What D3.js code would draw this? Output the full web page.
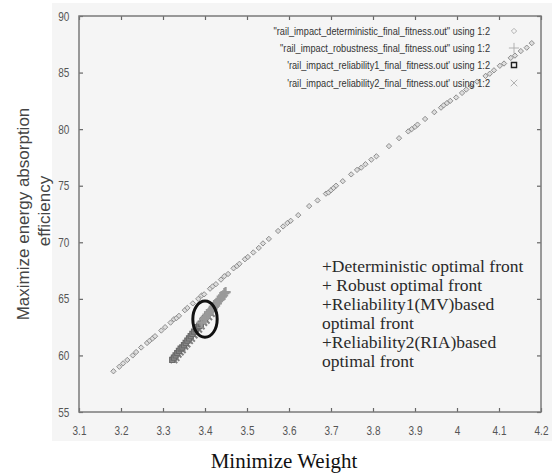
<!DOCTYPE html>
<html>
<head>
<meta charset="utf-8">
<script src="https://cdn.jsdelivr.net/npm/d3@7"></script>
<style>
  body { margin: 0; background: #fff; }
  svg { display: block; }
</style>
</head>
<body>
<div id="chart"></div>
<script>
// chart size = window size
var svgWidth = 552;
var svgHeight = 473;

// plot box inside the svg
var box = { left: 79, right: 541, top: 16, bottom: 412 };

// ticks
var xTicks = [3.1, 3.2, 3.3, 3.4, 3.5, 3.6, 3.7, 3.8, 3.9, 4, 4.1, 4.2];
var yTicks = [55, 60, 65, 70, 75, 80, 85, 90];

// deterministic front (weight, efficiency)
var detX = [3.182, 3.196, 3.205, 3.215, 3.228, 3.236, 3.248, 3.262, 3.268, 3.275, 3.281, 3.296, 3.305, 3.318, 3.326, 3.332, 3.338, 3.352, 3.358, 3.371, 3.384,
  3.392, 3.398, 3.412, 3.418, 3.426, 3.438, 3.446, 3.455, 3.468, 3.476, 3.482, 3.495, 3.502, 3.515, 3.528, 3.538, 3.552, 3.574, 3.586, 3.596,
  3.604, 3.622, 3.648, 3.668, 3.688, 3.694, 3.700, 3.706, 3.712, 3.728, 3.748, 3.762, 3.772, 3.782, 3.796, 3.808, 3.838, 3.862, 3.884, 3.892, 3.900, 3.906,
  3.924, 3.946, 3.962, 3.968, 3.976, 3.984, 3.998, 4.012, 4.022, 4.034, 4.048, 4.068, 4.078, 4.088, 4.102, 4.112, 4.128, 4.138, 4.152, 4.166, 4.178];
var detY = [58.6, 59.0, 59.3, 59.6, 60.0, 60.3, 60.7, 61.1, 61.3, 61.5, 61.7, 62.2, 62.5, 62.9, 63.2, 63.3, 63.5, 64.0, 64.2, 64.6, 65.0,
  65.3, 65.4, 65.9, 66.1, 66.3, 66.7, 67.0, 67.2, 67.7, 67.9, 68.1, 68.5, 68.7, 69.1, 69.5, 69.9, 70.3, 71.0, 71.4, 71.7,
  71.9, 72.4, 73.2, 73.7, 74.3, 74.4, 74.6, 74.8, 75.0, 75.4, 76.0, 76.4, 76.6, 76.9, 77.3, 77.6, 78.5, 79.2, 79.8, 80.0, 80.2, 80.4,
  80.9, 81.5, 81.9, 82.1, 82.3, 82.5, 82.8, 83.2, 83.5, 83.8, 84.2, 84.7, 84.9, 85.2, 85.6, 85.8, 86.3, 86.5, 86.9, 87.2, 87.6];

// robust front
var robX = [3.392, 3.398, 3.402, 3.406, 3.410, 3.414, 3.418, 3.421, 3.424, 3.428, 3.431, 3.434, 3.437, 3.440, 3.443, 3.446, 3.449];
var robY = [62.9, 63.2, 63.4, 63.6, 63.8, 64.0, 64.1, 64.3, 64.4, 64.6, 64.8, 64.9, 65.0, 65.2, 65.3, 65.5, 65.6];

// reliability1 (MV) front
var rel1X = [3.322, 3.326, 3.330, 3.334, 3.338, 3.342, 3.346, 3.350, 3.354, 3.358, 3.362, 3.366, 3.370, 3.374, 3.378, 3.382, 3.386, 3.390, 3.395, 3.400, 3.405, 3.410];
var rel1Y = [59.6, 59.8, 60.0, 60.2, 60.4, 60.6, 60.7, 60.9, 61.1, 61.3, 61.5, 61.7, 61.9, 62.1, 62.3, 62.5, 62.6, 62.8, 63.1, 63.3, 63.6, 63.8];

// reliability2 (RIA) front
var rel2X = [3.326, 3.331, 3.336, 3.341, 3.346, 3.352, 3.357, 3.363, 3.368, 3.374, 3.379, 3.385, 3.391, 3.397, 3.403, 3.409, 3.415];
var rel2Y = [59.7, 59.9, 60.2, 60.4, 60.6, 60.9, 61.1, 61.4, 61.6, 61.9, 62.1, 62.4, 62.7, 63.0, 63.2, 63.5, 63.8];

var legendLabels = [
  "\"rail_impact_deterministic_final_fitness.out\" using 1:2",
  "\"rail_impact_robustness_final_fitness.out\" using 1:2",
  "'rail_impact_reliability1_final_fitness.out' using 1:2",
  "'rail_impact_reliability2_final_fitness.out' using 1:2"
];

var noteLines = [
  "+Deterministic optimal front",
  "+ Robust optimal front",
  "+Reliability1(MV)based",
  "optimal front",
  "+Reliability2(RIA)based",
  "optimal front"
];

var svg = d3.select("#chart").append("svg")
  .attr("width", svgWidth)
  .attr("height", svgHeight);

// light grey panel behind the plot
svg.append("rect")
  .attr("x", 52).attr("y", 3)
  .attr("width", 500).attr("height", 438)
  .attr("fill", "#f5f5f5");

var x = d3.scaleLinear().domain([3.1, 4.2]).range([box.left, box.right]);
var y = d3.scaleLinear().domain([55, 90]).range([box.bottom, box.top]);

var tickFont = "'Liberation Sans', Arial, sans-serif";

// axes on all four sides, ticks pointing inward
var axBottom = svg.append("g")
  .attr("transform", `translate(0, ${box.bottom})`)
  .call(d3.axisBottom(x).tickValues(xTicks).tickSize(-4).tickPadding(14).tickFormat(d3.format("")));
var axTop = svg.append("g")
  .attr("transform", `translate(0, ${box.top})`)
  .call(d3.axisTop(x).tickValues(xTicks).tickSize(-4).tickFormat(""));
var axLeft = svg.append("g")
  .attr("transform", `translate(${box.left}, 0)`)
  .call(d3.axisLeft(y).tickValues(yTicks).tickSize(-4).tickPadding(12));
var axRight = svg.append("g")
  .attr("transform", `translate(${box.right}, 0)`)
  .call(d3.axisRight(y).tickValues(yTicks).tickSize(-4).tickFormat(""));

[axBottom, axTop, axLeft, axRight].forEach(function(g) {
  g.select(".domain").remove();
  g.selectAll("line").attr("stroke", "#666").attr("stroke-width", 1.2);
  g.selectAll("text")
    .attr("fill", "#555")
    .attr("transform", "scale(0.8, 1)")
    .style("font-family", tickFont)
    .style("font-size", "12.5px");
});

// frame
svg.append("rect")
  .attr("x", box.left).attr("y", box.top)
  .attr("width", box.right - box.left).attr("height", box.bottom - box.top)
  .attr("fill", "none").attr("stroke", "#7a7a7a").attr("stroke-width", 1.5);

// axis titles
svg.append("text")
  .attr("transform", "translate(29, 214) rotate(-90)")
  .attr("text-anchor", "middle")
  .style("font-family", "'Liberation Sans', Arial, sans-serif")
  .style("font-size", "17px")
  .attr("fill", "#444")
  .text("Maximize energy absorption");
svg.append("text")
  .attr("transform", "translate(50, 211) rotate(-90)")
  .attr("text-anchor", "middle")
  .style("font-family", "'Liberation Sans', Arial, sans-serif")
  .style("font-size", "17px")
  .attr("fill", "#444")
  .text("efficiency");

svg.append("text")
  .attr("x", 284).attr("y", 468)
  .attr("text-anchor", "middle")
  .style("font-family", "'Liberation Serif', 'Times New Roman', serif")
  .style("font-size", "21px")
  .attr("fill", "#111")
  .text("Minimize Weight");

// data
var det = detX.map((d, i) => ({ x: d, y: detY[i] }));
var rob = robX.map((d, i) => ({ x: d, y: robY[i] }));
var rel1 = rel1X.map((d, i) => ({ x: d, y: rel1Y[i] }));
var rel2 = rel2X.map((d, i) => ({ x: d, y: rel2Y[i] }));

var diamond = d3.symbol().type(d3.symbolDiamond2).size(18);
var plus = d3.symbol().type(d3.symbolPlus).size(36);
var square = d3.symbol().type(d3.symbolSquare).size(26);
var cross = d3.symbol().type(d3.symbolTimes).size(30);

svg.append("g").selectAll("path")
  .data(det).enter().append("path")
  .attr("transform", d => `translate(${x(d.x)}, ${y(d.y)})`)
  .attr("d", diamond)
  .attr("fill", "#ddd").attr("stroke", "#777").attr("stroke-width", 0.8);

svg.append("g").selectAll("path")
  .data(rel2).enter().append("path")
  .attr("transform", d => `translate(${x(d.x)}, ${y(d.y) + 1})`)
  .attr("d", cross)
  .attr("fill", "none").attr("stroke", "#808080").attr("stroke-width", 2);

svg.append("g").selectAll("path")
  .data(rel1).enter().append("path")
  .attr("transform", d => `translate(${x(d.x)}, ${y(d.y)})`)
  .attr("d", square)
  .attr("fill", "#8a8a8a").attr("stroke", "#6a6a6a").attr("stroke-width", 1.2);

svg.append("g").selectAll("path")
  .data(rob).enter().append("path")
  .attr("transform", d => `translate(${x(d.x)}, ${y(d.y)})`)
  .attr("d", plus)
  .attr("fill", "none").attr("stroke", "#999").attr("stroke-width", 2.2);

// highlight ellipse
svg.append("ellipse")
  .attr("cx", x(3.40)).attr("cy", y(63.2))
  .attr("rx", x(3.429) - x(3.40)).attr("ry", y(61.6) - y(63.2))
  .attr("fill", "none").attr("stroke", "#111").attr("stroke-width", 3);

// legend (narrow gnuplot-like text)
var legendSymbols = [diamond, plus, square, cross];
var legendY = [31, 48, 65, 83];
var legend = svg.append("g");
legendLabels.forEach(function(label, i) {
  legend.append("text")
    .attr("transform", `translate(490, ${legendY[i]}) scale(0.8, 1)`)
    .attr("dy", "0.35em")
    .attr("text-anchor", "end")
    .style("font-family", tickFont)
    .style("font-size", "11.5px")
    .attr("fill", "#333")
    .text(label);
  legend.append("path")
    .attr("transform", `translate(514, ${legendY[i]})`)
    .attr("d", legendSymbols[i])
    .attr("fill", "none")
    .attr("stroke", i === 2 ? "#222" : "#aaa")
    .attr("stroke-width", i === 2 ? 1.4 : 0.9);
});

// text note inside plot
svg.append("g").selectAll("text")
  .data(noteLines).enter().append("text")
  .attr("x", 322)
  .attr("y", (d, i) => 266 + i * 19)
  .attr("dy", "0.35em")
  .style("font-family", "'Liberation Serif', 'Times New Roman', serif")
  .style("font-size", "17.5px")
  .attr("fill", "#2a2a2a")
  .text(d => d);
</script>
</body>
</html>
